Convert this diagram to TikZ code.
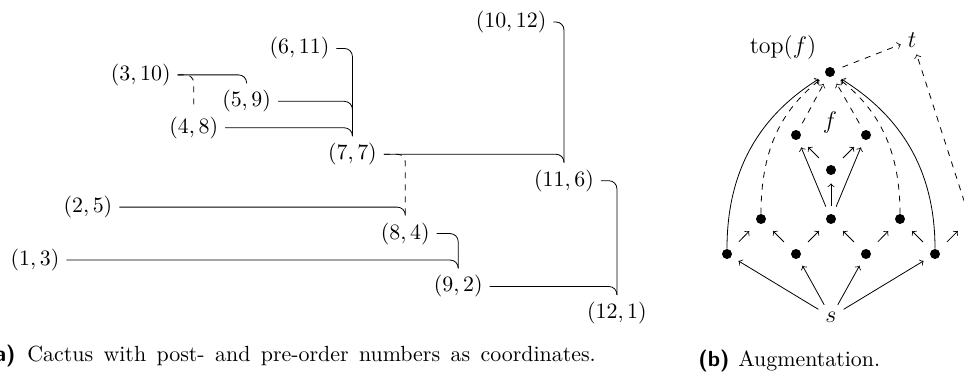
\documentclass[tikz,border=0pt]{standalone}
\begin{document}
\begin{tikzpicture}[x=0.5pt,y=0.5pt,
  lab/.style={font=\fontsize{10.95}{13.6}\selectfont},
  cedge/.style={rounded corners=4pt},
  dot/.style={circle,fill=black,inner sep=0pt,minimum size=5pt},
  ghost/.style={circle,inner sep=0pt,minimum size=5pt},
  rlab/.style={font=\fontsize{12.9}{15.5}\selectfont},
  longarr/.style={->,shorten <=4pt,shorten >=4pt},
  shortarr/.style={->,shorten <=5.8pt,shorten >=5.8pt},
  captext/.style={font=\fontsize{10.95}{13.6}\selectfont,inner sep=0pt},
  caplab/.style={font=\fontsize{10.95}{13.6}\selectfont\sffamily\bfseries,inner sep=0pt},
]
\useasboundingbox (0,0) rectangle (964,374);

% ---------- (a) cactus ----------
\foreach \a/\b in {1/3,2/5,3/10,4/8,5/9,6/11,7/7,8/4,9/2,10/12,11/6,12/1}
  \node[lab] (n\a) at ({-17.9+52.9*\a},{34.6+26.45*\b}) {$(\a,\b)$};

\draw[cedge] (n3.east) -| (n5.north);
\draw[cedge,dashed] (n3.east) -| (n4.north);
\draw[cedge] (n6.east) -| (n7.north);
\draw[cedge] (n5.east) -| (n7.north);
\draw[cedge] (n4.east) -| (n7.north);
\draw[cedge] (n10.east) -| (n11.north);
\draw[cedge] (n7.east) -| (n11.north);
\draw[cedge,dashed] (n7.east) -| (n8.north);
\draw[cedge] (n2.east) -| (n8.north);
\draw[cedge] (n8.east) -| (n9.north);
\draw[cedge] (n1.east) -| (n9.north);
\draw[cedge] (n11.east) -| (n12.north);
\draw[cedge] (n9.east) -| (n12.north);

% ---------- (b) augmentation ----------
\node[dot] (T) at (830,302) {};
\node[dot] (ML) at (796,239) {};
\node[dot] (MR) at (866,239) {};
\node[dot] (C) at (831,204) {};
\node[dot] (A) at (761,155) {};
\node[dot] (B) at (831,155) {};
\node[dot] (D) at (900,155) {};
\node[dot] (E) at (727,120) {};
\node[dot] (F) at (796,120) {};
\node[dot] (G) at (866,120) {};
\node[dot] (H) at (935,120) {};
\node[ghost] (X) at (969.7,155) {};
\node[rlab] (s) at (831,57) {$s$};
\node[rlab] (t) at (912,334) {$t$};
\node[rlab] (topl) at (783,326) {$\mathrm{top}(f)$};
\node[rlab] (fl) at (830,251) {$f$};
\coordinate (Z) at (968,161);

\foreach \x in {E,F,G,H} \draw[->,shorten >=4pt] (s) -- (\x);
\draw[shortarr] (E) -- (A);
\draw[shortarr] (F) -- (A);
\draw[shortarr] (F) -- (B);
\draw[shortarr] (G) -- (B);
\draw[shortarr] (G) -- (D);
\draw[shortarr] (H) -- (D);
\draw[shortarr] (H) -- (X);
\draw[shortarr] (C) -- (ML);
\draw[shortarr] (C) -- (MR);
\draw[longarr] (B) -- (ML);
\draw[longarr] (B) -- (MR);
\draw[longarr] (B) -- (C);

\draw[->,shorten >=4pt] (E) to[out=90,in=212] (T);
\draw[->,shorten >=4pt] (H) to[out=90,in=-32] (T);
\draw[->,dashed,shorten >=4pt] (A) to[out=90,in=218] (T);
\draw[->,dashed,shorten >=4pt] (D) to[out=90,in=-38] (T);
\draw[->,dashed,shorten >=4pt,shorten <=4pt] (ML) -- (T);
\draw[->,dashed,shorten >=4pt,shorten <=4pt] (MR) -- (T);
\draw[->,dashed,shorten <=4pt] (T) -- (t);
\draw[->,dashed] (Z) -- (t);

% ---------- captions ----------
\node[caplab,anchor=base east] (capa) at (16,12) {(a)};
\node[captext,anchor=base west] (capat) at (27,12) {\spaceskip=5.2pt Cactus with post- and pre-order numbers as coordinates.};
\node[caplab,anchor=base west] (capb) at (698,7) {(b)};
\node[captext,anchor=base west] (capbt) at (738,7) {Augmentation.};
\end{tikzpicture}
\end{document}
